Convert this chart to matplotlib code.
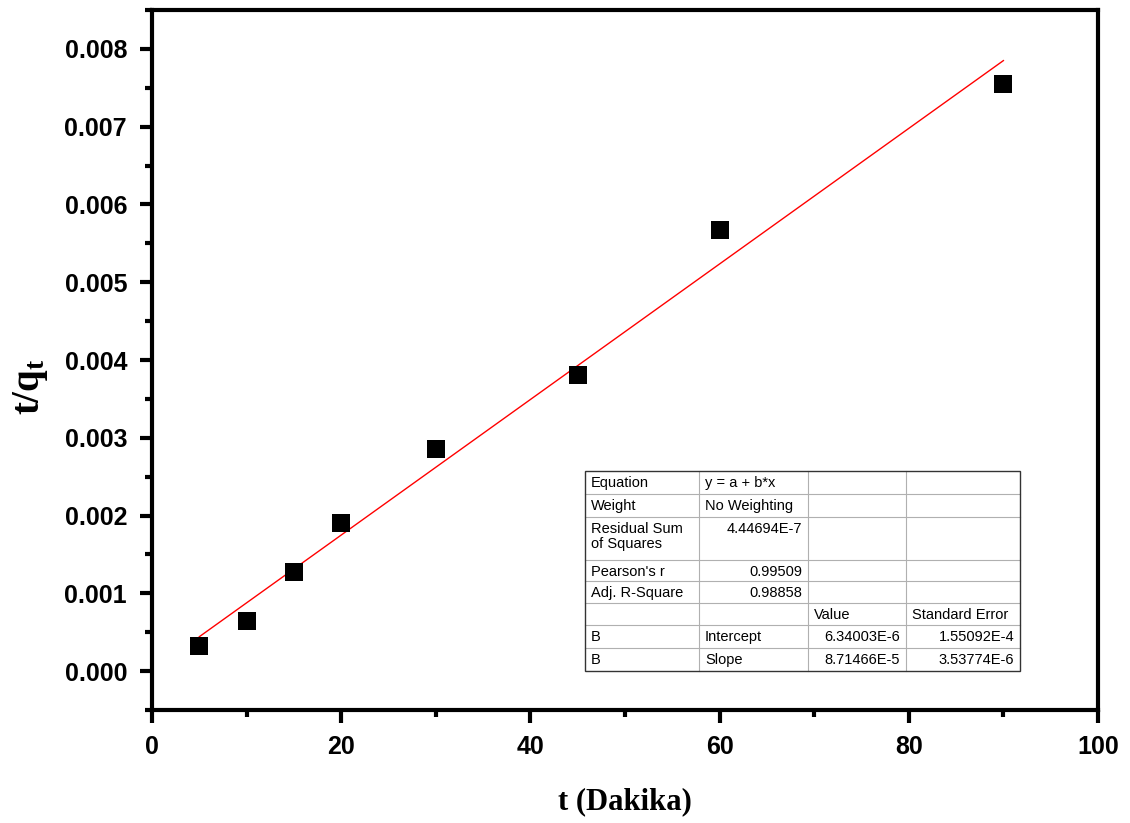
import matplotlib
matplotlib.use("Agg")
import matplotlib.pyplot as plt
from matplotlib.ticker import MultipleLocator, FuncFormatter
import numpy as np

plt.rcParams["mathtext.fontset"] = "custom"
plt.rcParams["mathtext.bf"] = "Liberation Serif:bold"
plt.rcParams["mathtext.rm"] = "Liberation Serif"
plt.rcParams["mathtext.it"] = "Liberation Serif:italic"

# Pseudo-second-order kinetics: t/qt versus contact time
time_min = [5, 10, 15, 20, 30, 45, 60, 90]
t_over_qt = [0.00032, 0.00064, 0.00127, 0.00190, 0.00285, 0.00381, 0.00567, 0.00755]

# Linear fit results (y = a + b*x)
fit_intercept = 6.34003e-6
fit_slope = 8.71466e-5

table_rows = [
    ["Equation", "y = a + b*x", "", ""],
    ["Weight", "No Weighting", "", ""],
    ["Residual Sum\nof Squares", "4.44694E-7", "", ""],
    ["Pearson's r", "0.99509", "", ""],
    ["Adj. R-Square", "0.98858", "", ""],
    ["", "", "Value", "Standard Error"],
    ["B", "Intercept", "6.34003E-6", "1.55092E-4"],
    ["B", "Slope", "8.71466E-5", "3.53774E-6"],
]

W, H = 1130, 823
fig = plt.figure(figsize=(W / 100, H / 100), dpi=100)
ax = fig.add_axes([152 / W, 1 - 710 / H, (1098 - 152) / W, (710 - 10) / H])

ax.scatter(time_min, t_over_qt, marker="s", s=150, color="black", zorder=3, linewidths=0)
xf = np.array([time_min[0], time_min[-1]])
ax.plot(xf, fit_intercept + fit_slope * xf, color="red", lw=1.0, zorder=2)

ax.set_xlim(0, 100)
ax.set_ylim(-0.0005, 0.0085)
ax.xaxis.set_major_locator(MultipleLocator(20))
ax.xaxis.set_minor_locator(MultipleLocator(10))
ax.yaxis.set_major_locator(MultipleLocator(0.001))
ax.yaxis.set_minor_locator(MultipleLocator(0.0005))
ax.yaxis.set_major_formatter(FuncFormatter(lambda v, p: f"{v:.3f}"))

for s in ax.spines.values():
    s.set_linewidth(3)
ax.tick_params(which="major", direction="out", length=9, width=3,
               top=False, right=False, pad=9)
ax.tick_params(which="minor", direction="out", length=5, width=3,
               top=False, right=False)
for lbl in ax.get_xticklabels() + ax.get_yticklabels():
    lbl.set_fontfamily("Liberation Sans")
    lbl.set_fontweight("bold")
    lbl.set_fontsize(18)

ax.set_xlabel("t (Dakika)", fontfamily="Liberation Serif", fontweight="bold",
              fontsize=22, labelpad=20)
ax.set_ylabel(r"$\mathbf{t/q}_{\mathbf{t}}$", fontsize=28)
ax.yaxis.set_label_coords((50 - 152) / 946, (710 - 387) / 700)

# Fit summary table drawn in figure pixel coordinates
col_x = [585, 699, 808, 906, 1020]
row_y = [471, 494, 517, 560, 581, 603, 625, 648, 671]

def fx(px):
    return px / W

def fy(py):
    return 1 - py / H

grid_color = "#b0b0b0"
fig.patches.append(plt.Rectangle((fx(col_x[0]), fy(row_y[-1])),
                                 fx(col_x[-1]) - fx(col_x[0]), fy(row_y[0]) - fy(row_y[-1]),
                                 transform=fig.transFigure, facecolor="white",
                                 edgecolor="none", zorder=4))
for yy in row_y[1:-1]:
    fig.add_artist(plt.Line2D([fx(col_x[0]), fx(col_x[-1])], [fy(yy), fy(yy)],
                              color=grid_color, lw=0.8, zorder=5))
for xx in col_x[1:-1]:
    fig.add_artist(plt.Line2D([fx(xx), fx(xx)], [fy(row_y[0]), fy(row_y[-1])],
                              color=grid_color, lw=0.8, zorder=5))
fig.patches.append(plt.Rectangle((fx(col_x[0]), fy(row_y[-1])),
                                 fx(col_x[-1]) - fx(col_x[0]), fy(row_y[0]) - fy(row_y[-1]),
                                 transform=fig.transFigure, facecolor="none",
                                 edgecolor="#333333", lw=1.0, zorder=6))

for r, row in enumerate(table_rows):
    top = row_y[r] + 5
    for c, txt in enumerate(row):
        if not txt:
            continue
        numeric = txt[0].isdigit()
        if numeric:
            x = col_x[c + 1] - 6
            ha = "right"
        else:
            x = col_x[c] + 6
            ha = "left"
        fig.text(fx(x), fy(top), txt, ha=ha, va="top", fontsize=10.5,
                 fontfamily="Liberation Sans", linespacing=1.1, zorder=7)

fig.savefig("out.png", dpi=100, facecolor="white")
